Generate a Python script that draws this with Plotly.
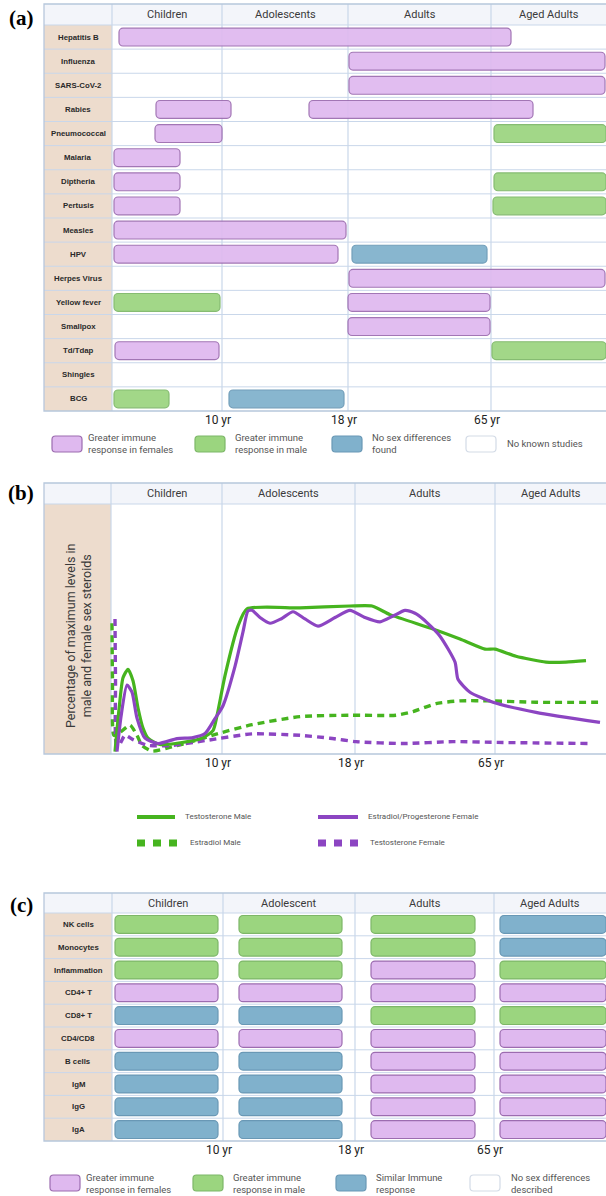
import plotly.graph_objects as go

W, H = 606, 1196


def fx(p):
    return p / W


def fy(p):
    return 1 - p / H


PURPLE_FILL, PURPLE_LINE = "#dfb9ef", "#9c6cb0"
GREEN_FILL, GREEN_LINE = "#9bd57f", "#7db768"
BLUE_FILL, BLUE_LINE = "#80b1cc", "#6998b5"
BEIGE, HEADER, GRID, FRAME = "#eddccd", "#f3f5fa", "#c9d7ea", "#b7c7dc"
T_GREEN, E_PURPLE = "#46b41f", "#8c45c2"
STYLE = {"F": (PURPLE_FILL, PURPLE_LINE), "M": (GREEN_FILL, GREEN_LINE), "N": (BLUE_FILL, BLUE_LINE)}

# ---------------- Panel (a) data ----------------
A_ROWS = ["Hepatitis B", "Influenza", "SARS-CoV-2", "Rabies", "Pneumococcal", "Malaria",
          "Diptheria", "Pertusis", "Measles", "HPV", "Herpes Virus", "Yellow fever",
          "Smallpox", "Td/Tdap", "Shingles", "BCG"]
A_STAGES = ["Children", "Adolescents", "Adults", "Aged Adults"]
A_BOUNDS = [0, 110, 236, 379, 494]
AGE_TICKS = ["10 yr", "18 yr", "65 yr"]
A_SEG_ROW = ["Hepatitis B", "Influenza", "SARS-CoV-2", "Rabies", "Rabies", "Pneumococcal",
             "Pneumococcal", "Malaria", "Diptheria", "Diptheria", "Pertusis", "Pertusis",
             "Measles", "HPV", "HPV", "Herpes Virus", "Yellow fever", "Yellow fever",
             "Smallpox", "Td/Tdap", "Td/Tdap", "BCG", "BCG"]
A_SEG_START = [7, 237, 237, 44, 197, 43, 382, 2, 2, 382, 2, 381, 2, 2, 240, 237, 2, 236,
               236, 3, 380, 2, 117]
A_SEG_END = [399, 493, 493, 119, 421, 110, 494, 68, 68, 494, 68, 494, 234, 226, 375, 493,
             108, 378, 378, 107, 494, 57, 232]
A_SEG_TYPE = ["F", "F", "F", "F", "F", "F", "M", "F", "F", "M", "F", "M", "F", "F", "N", "F",
              "M", "F", "F", "F", "M", "M", "N"]
A_LEGEND = ["Greater immune<br>response in females", "Greater immune<br>response in male",
            "No sex differences<br>found", "No known studies"]

# ---------------- Panel (b) data ----------------
B_STAGES = ["Children", "Adolescents", "Adults", "Aged Adults"]
B_BOUNDS = [0, 111, 244, 384, 495]
TM_X = [4, 8, 12, 17, 22, 27, 32, 37, 49, 71, 91, 102, 106, 114, 127, 136, 189, 239, 261,
        279, 322, 349, 374, 384, 405, 435, 455, 475]
TM_Y = [0.7, 30, 52, 58, 50, 31, 17, 10, 5.6, 7, 10, 15.3, 25.7, 53.5, 88, 100, 100.7, 102,
        102, 96, 86, 79, 72, 72, 67, 63, 63, 64]
EF_X = [6, 10, 16, 21, 26, 34, 47, 66, 82, 94, 104, 112, 124, 132, 137, 141, 149, 159, 170,
        182, 194, 207, 224, 239, 254, 269, 282, 294, 304, 312, 329, 344, 347, 359, 382, 425,
        489]
EF_Y = [0.7, 25, 47, 42, 24, 10, 6.3, 9.7, 10.4, 13.2, 23.6, 32.6, 60, 84, 98.6, 99, 94, 90,
        93, 98, 93, 88, 94, 99, 94, 91, 95, 99, 97, 93, 81, 63, 51, 42, 35, 28, 21]
EM_X = [1, 1.5, 3, 9, 19, 26, 31, 41, 61, 81, 107, 141, 189, 239, 285, 302, 325, 349, 379,
        425, 492]
EM_Y = [90, 50, 12, 14, 19, 12, 5, 1, 4, 7.6, 13.2, 19.4, 25, 26, 26, 28.5, 34, 36, 36, 35,
        35]
TF_X = [4, 4.5, 5.5, 8, 14, 22, 37, 61, 94, 141, 189, 219, 245, 292, 342, 392, 479]
TF_Y = [93, 50, 5, 5, 12, 9, 5, 5, 8.3, 13, 12, 10, 7.6, 6.3, 7.6, 7, 6.3]
B_NAMES = ["Testosterone Male", "Estradiol/Progesterone Female", "Estradiol Male",
           "Testosterone Female"]

# ---------------- Panel (c) data ----------------
C_ROWS = ["NK cells", "Monocytes", "Inflammation", "CD4+ T", "CD8+ T", "CD4/CD8", "B cells",
          "IgM", "IgG", "IgA"]
C_STAGES = ["Children", "Adolescent", "Adults", "Aged Adults"]
C_BOUNDS = [0, 111, 243, 382, 494]
C_CELL_START = [3, 127, 259, 388]
C_CELL_END = [106, 230, 363, 494]
C_MATRIX = [
    ["M", "M", "M", "N"],
    ["M", "M", "M", "N"],
    ["M", "M", "F", "M"],
    ["F", "F", "F", "F"],
    ["N", "N", "M", "M"],
    ["F", "F", "F", "F"],
    ["N", "N", "F", "F"],
    ["N", "N", "F", "F"],
    ["N", "N", "F", "F"],
    ["N", "N", "F", "F"],
]
C_LEGEND = ["Greater immune<br>response in females", "Greater immune<br>response in male",
            "Similar Immune<br>response", "No sex differences<br>described"]

fig = go.Figure()
shapes, annos = [], []

# ---- panel (a) bars ----
for code in ["F", "M", "N"]:
    idx = [i for i, t in enumerate(A_SEG_TYPE) if t == code]
    fill, line = STYLE[code]
    fig.add_trace(go.Bar(
        orientation="h", y=[A_ROWS.index(A_SEG_ROW[i]) for i in idx],
        base=[A_SEG_START[i] for i in idx],
        x=[A_SEG_END[i] - A_SEG_START[i] for i in idx],
        width=0.74, marker=dict(color=fill, line=dict(color=line, width=1.2), cornerradius=4),
        opacity=0.93, xaxis="x", yaxis="y", hoverinfo="skip", showlegend=False))

# ---- panel (c) bars ----
for code in ["F", "M", "N"]:
    ys, bs, xs = [], [], []
    for r, row in enumerate(C_MATRIX):
        for c, t in enumerate(row):
            if t == code:
                ys.append(r)
                bs.append(C_CELL_START[c])
                xs.append(C_CELL_END[c] - C_CELL_START[c])
    fill, line = STYLE[code]
    fig.add_trace(go.Bar(
        orientation="h", y=ys, base=bs, x=xs, width=0.78,
        marker=dict(color=fill, line=dict(color=line, width=1.2), cornerradius=4),
        xaxis="x3", yaxis="y3", hoverinfo="skip", showlegend=False))

# ---- panel (b) curves ----
for xs, ys, col, dash in [(EM_X, EM_Y, T_GREEN, "7px,5px"), (TF_X, TF_Y, E_PURPLE, "7px,5px"),
                          (TM_X, TM_Y, T_GREEN, "solid"), (EF_X, EF_Y, E_PURPLE, "solid")]:
    fig.add_trace(go.Scatter(
        x=xs, y=ys, mode="lines",
        line=dict(color=col, width=3.2 if dash == "solid" else 3.4, dash=dash, shape="spline",
                  smoothing=0.6),
        xaxis="x2", yaxis="y2", hoverinfo="skip", showlegend=False))


def ann(**kw):
    d = dict(showarrow=False, xanchor="center", yanchor="middle")
    d.update(kw)
    annos.append(d)


def table_frame(xax, top, hdr_bottom, bottom, bounds, stages, nrows, label_left=-68,
                row_lines=True, yname="y"):
    shapes.append(dict(type="rect", xref=xax, yref="paper", x0=label_left, x1=0,
                       y0=fy(bottom), y1=fy(hdr_bottom), fillcolor=BEIGE, line_width=0,
                       layer="below"))
    shapes.append(dict(type="rect", xref="paper", yref="paper", x0=fx(44), x1=fx(612),
                       y0=fy(hdr_bottom), y1=fy(top), fillcolor=HEADER, line_width=0,
                       layer="below"))
    if row_lines:
        for i in range(1, nrows):
            shapes.append(dict(type="line", xref="paper", yref=yname, x0=fx(44), x1=fx(612),
                               y0=i - 0.5, y1=i - 0.5, line=dict(color=GRID, width=1),
                               layer="below"))
    for b in bounds[:4]:
        shapes.append(dict(type="line", xref=xax, yref="paper", x0=b, x1=b, y0=fy(bottom),
                           y1=fy(top), line=dict(color=GRID, width=1.2), layer="below"))
    shapes.append(dict(type="line", xref="paper", yref="paper", x0=fx(44), x1=fx(612),
                       y0=fy(hdr_bottom), y1=fy(hdr_bottom), line=dict(color=GRID, width=1),
                       layer="below"))
    shapes.append(dict(type="rect", xref="paper", yref="paper", x0=fx(44), x1=fx(612),
                       y0=fy(bottom), y1=fy(top), line=dict(color=FRAME, width=1.3),
                       fillcolor="rgba(0,0,0,0)", layer="below"))
    for i, s in enumerate(stages):
        ann(xref=xax, yref="paper", x=(bounds[i] + bounds[i + 1]) / 2,
            y=fy((top + hdr_bottom) / 2), text=s,
            font=dict(family="Roboto", size=11, color="#3a3a3a"))


table_frame("x", 4, 25, 411, A_BOUNDS, A_STAGES, len(A_ROWS), yname="y")
table_frame("x2", 483, 504, 754, B_BOUNDS, B_STAGES, 1, label_left=-67, row_lines=False,
            yname="y2")
table_frame("x3", 893, 913, 1141, C_BOUNDS, C_STAGES, len(C_ROWS), yname="y3")

for i, r in enumerate(A_ROWS):
    ann(xref="x", yref="y", x=-34, y=i, text="<b>" + r + "</b>",
        font=dict(family="Liberation Sans", size=7.8, color="#2a2a2a"))
for i, r in enumerate(C_ROWS):
    ann(xref="x3", yref="y3", x=-34, y=i, text="<b>" + r + "</b>",
        font=dict(family="Liberation Sans", size=7.8, color="#2a2a2a"))

ann(xref="x2", yref="paper", x=-33, y=fy(636),
    text="Percentage of maximum levels in<br>male and female sex steroids", textangle=-90,
    font=dict(family="Roboto", size=12.5, color="#3a3a3a"))

# panel letters
for letter, yy in [("(a)", 18), ("(b)", 493), ("(c)", 905)]:
    ann(xref="paper", yref="paper", x=fx(21), y=fy(yy), text="<b>" + letter + "</b>",
        font=dict(family="Liberation Serif", size=21, color="#000000"))


def rounded_path(w, h, r):
    x0, x1, y0, y1 = -w / 2, w / 2, -h / 2, h / 2
    return (f"M{x0 + r},{y0} L{x1 - r},{y0} Q{x1},{y0} {x1},{y0 + r} L{x1},{y1 - r} "
            f"Q{x1},{y1} {x1 - r},{y1} L{x0 + r},{y1} Q{x0},{y1} {x0},{y1 - r} "
            f"L{x0},{y0 + r} Q{x0},{y0} {x0 + r},{y0} Z")


def box_legend(cy, labels, sw_x, tx_x):
    fills = [(PURPLE_FILL, PURPLE_LINE), (GREEN_FILL, GREEN_LINE), (BLUE_FILL, BLUE_LINE),
             ("#ffffff", "#d3dbe6")]
    for (f, l), sx, tx, lab in zip(fills, sw_x, tx_x, labels):
        shapes.append(dict(type="path", xsizemode="pixel", ysizemode="pixel", xref="paper",
                           yref="paper", xanchor=fx(sx), yanchor=fy(cy),
                           path=rounded_path(30, 16, 3.5), fillcolor=f,
                           line=dict(color=l, width=1.2)))
        ann(xref="paper", yref="paper", x=fx(tx), y=fy(cy), text=lab, xanchor="left",
            align="left", font=dict(family="Roboto", size=9.5, color="#555555"))


box_legend(444, A_LEGEND, [67, 210, 347, 481], [86, 233, 370, 505])
box_legend(1183, C_LEGEND, [65, 208, 351, 485], [84, 231, 374, 509])

# panel (b) legend
for (x0, x1, yy, col, dash, tx, lab) in [
        (137, 175, 817, T_GREEN, "solid", 183, B_NAMES[0]),
        (318, 358, 817, E_PURPLE, "solid", 366, B_NAMES[1]),
        (137, 184, 843, T_GREEN, "8px,8px", 188, B_NAMES[2]),
        (318, 364, 843, E_PURPLE, "8px,8px", 368, B_NAMES[3])]:
    shapes.append(dict(type="line", xref="paper", yref="paper", x0=fx(x0), x1=fx(x1),
                       y0=fy(yy), y1=fy(yy),
                       line=dict(color=col, width=4 if dash == "solid" else 7, dash=dash)))
    ann(xref="paper", yref="paper", x=fx(tx), y=fy(yy - 1), text=lab, xanchor="left",
        font=dict(family="Roboto", size=8, color="#555555"))

xcommon = dict(showgrid=False, zeroline=False, showline=False, ticks="", fixedrange=True,
               tickfont=dict(family="Roboto", size=12, color="#222222"), ticklabelshift=-4)
ycommon = dict(visible=False, fixedrange=True)

fig.update_layout(
    width=W, height=H, margin=dict(l=0, r=0, t=0, b=0),
    paper_bgcolor="white", plot_bgcolor="rgba(0,0,0,0)", barmode="overlay",
    xaxis=dict(domain=[fx(44), 1], range=[-68, 494], tickvals=A_BOUNDS[1:4],
               ticktext=AGE_TICKS, anchor="y", **xcommon),
    yaxis=dict(domain=[fy(411), fy(25)], range=[15.5, -0.5], anchor="x", **ycommon),
    xaxis2=dict(domain=[fx(44), 1], range=[-67, 495], tickvals=B_BOUNDS[1:4],
                ticktext=AGE_TICKS, anchor="y2", **xcommon),
    yaxis2=dict(domain=[fy(754), fy(504)], range=[-1, 173], anchor="x2", **ycommon),
    xaxis3=dict(domain=[fx(44), 1], range=[-68, 494], tickvals=C_BOUNDS[1:4],
                ticktext=AGE_TICKS, anchor="y3", **xcommon),
    yaxis3=dict(domain=[fy(1141), fy(913)], range=[9.5, -0.5], anchor="x3", **ycommon),
    shapes=shapes, annotations=annos,
)

fig.write_html("out.html", config={"displayModeBar": False},
               post_script="document.body.style.margin='0';document.body.style.overflow='hidden';")
